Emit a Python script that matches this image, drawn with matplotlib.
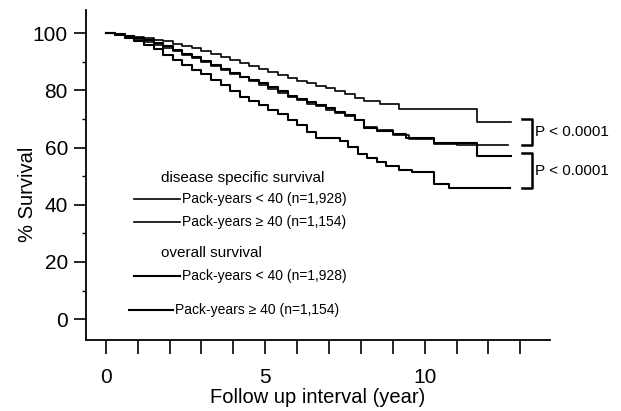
import matplotlib.pyplot as plt
from matplotlib.lines import Line2D

plt.rcParams['font.family'] = ['Liberation Sans', 'DejaVu Sans']

# Kaplan-Meier curves (years, % survival)
dss_lt40_t = [0, 0.3, 0.6, 0.9, 1.2, 1.5, 1.8, 2.1, 2.4, 2.7, 3.0, 3.3, 3.6, 3.9, 4.2, 4.5, 4.8, 5.1,
              5.4, 5.7, 6.0, 6.3, 6.6, 6.9, 7.2, 7.5, 7.8, 8.1, 8.6, 9.2, 11.65, 12.7]
dss_lt40_s = [100, 99.6, 99.1, 98.7, 98.2, 97.7, 97.1, 96.3, 95.6, 94.7, 93.8, 92.8, 91.7, 90.6, 89.4,
              88.5, 87.5, 86.4, 85.4, 84.3, 83.2, 82.4, 81.5, 80.7, 79.7, 78.6, 77.5, 76.3, 75.2, 73.6,
              69.0, 69.0]

dss_ge40_t = [0, 0.3, 0.6, 0.9, 1.2, 1.5, 1.8, 2.1, 2.4, 2.7, 3.0, 3.3, 3.6, 3.9, 4.2, 4.5, 4.8, 5.1,
              5.4, 5.7, 6.0, 6.3, 6.6, 6.9, 7.2, 7.5, 7.8, 8.1, 8.5, 9.0, 9.5, 10.3, 11.0, 12.6]
dss_ge40_s = [100, 99.4, 98.8, 98.0, 97.0, 96.0, 94.8, 93.6, 92.5, 91.2, 90.0, 88.6, 87.2, 85.8, 84.6,
              83.4, 82.0, 80.6, 79.2, 77.8, 76.6, 75.4, 74.4, 73.2, 72.2, 71.0, 69.5, 67.2, 66.0, 64.5,
              63.0, 61.2, 60.8, 60.8]

os_lt40_t = [0, 0.3, 0.6, 0.9, 1.2, 1.5, 1.8, 2.1, 2.4, 2.7, 3.0, 3.3, 3.6, 3.9, 4.2, 4.5, 4.8, 5.1,
             5.4, 5.7, 6.0, 6.3, 6.6, 6.9, 7.2, 7.5, 7.8, 8.1, 8.5, 9.0, 9.4, 10.3, 11.65, 12.7]
os_lt40_s = [100, 99.6, 99.0, 98.4, 97.6, 96.6, 95.4, 94.0, 92.8, 91.5, 90.2, 88.8, 87.4, 86.0, 84.8,
             83.6, 82.4, 81.0, 79.6, 78.2, 77.0, 75.8, 74.8, 73.8, 72.6, 71.4, 69.8, 67.0, 65.8, 64.8,
             63.2, 61.5, 57.0, 57.0]

os_ge40_t = [0, 0.3, 0.6, 0.9, 1.2, 1.5, 1.8, 2.1, 2.4, 2.7, 3.0, 3.3, 3.6, 3.9, 4.2, 4.5, 4.8, 5.1,
             5.4, 5.7, 6.0, 6.3, 6.6, 7.35, 7.6, 7.9, 8.2, 8.5, 8.8, 9.2, 9.6, 10.3, 10.77, 12.67]
os_ge40_s = [100, 99.3, 98.3, 97.2, 96.0, 94.3, 92.4, 90.6, 88.9, 87.2, 85.6, 83.7, 81.8, 79.6, 77.8,
             76.3, 74.8, 73.2, 71.6, 69.8, 68.0, 65.6, 63.2, 62.4, 60.2, 57.8, 56.2, 54.8, 53.5, 52.3,
             51.5, 47.4, 45.9, 45.9]

legend_labels = ['Pack-years < 40 (n=1,928)', 'Pack-years \u2265 40 (n=1,154)']
p_text = 'P < 0.0001'

W, H = 621, 411
fig = plt.figure(figsize=(W / 100, H / 100), dpi=100)
ax = fig.add_axes([86 / W, 1 - 340 / H, (550 - 86) / W, (340 - 10) / H])

ax.step(dss_lt40_t, dss_lt40_s, where='post', color='black', lw=1.2)
ax.step(dss_ge40_t, dss_ge40_s, where='post', color='black', lw=1.2)
ax.step(os_lt40_t, os_lt40_s, where='post', color='black', lw=1.5)
ax.step(os_ge40_t, os_ge40_s, where='post', color='black', lw=1.5)

ax.set_xlim(-0.62, 13.93)
ax.set_ylim(-7.3, 108.1)
ax.spines['top'].set_visible(False)
ax.spines['right'].set_visible(False)
ax.spines['left'].set_linewidth(1.3)
ax.spines['bottom'].set_linewidth(1.3)

ax.set_xticks(range(0, 14))
ax.set_xticklabels(['0', '', '', '', '', '5', '', '', '', '', '10', '', '', ''])
ax.set_yticks([0, 20, 40, 60, 80, 100])
ax.set_yticks([10, 30, 50, 70, 90], minor=True)
ax.tick_params(axis='x', length=10, width=1.2, pad=10, labelsize=15)
ax.tick_params(axis='y', length=9, width=1.2, pad=4, labelsize=15)
ax.tick_params(axis='y', which='minor', length=3, width=1.0)

ax.set_xlabel('Follow up interval (year)', fontsize=14.5, labelpad=1)
ax.set_ylabel('% Survival', fontsize=14.5)
ax.yaxis.set_label_coords(-0.105, 0.44)

# P-value brackets between the final values of each pair
for hi, lo in [(dss_lt40_s[-1], dss_ge40_s[-1]), (os_lt40_s[-1], os_ge40_s[-1])]:
    top = hi + 1
    ax.plot([13.05, 13.36, 13.36, 13.05], [top, top, lo, lo], color='black', lw=1.8)
    ax.text(13.46, (top + lo) / 2, p_text, fontsize=11, va='center', ha='left')

# custom legend in figure pixels
def fx(x):
    return x / W

def fy(y):
    return 1 - y / H

fig.text(fx(161), fy(178), 'disease specific survival', fontsize=11, va='center')
fig.text(fx(161), fy(253), 'overall survival', fontsize=11, va='center')
rows = [(134, 180, 199, legend_labels[0], 1.2), (134, 180, 222, legend_labels[1], 1.2),
        (134, 180, 276, legend_labels[0], 1.5), (129, 173, 310, legend_labels[1], 1.5)]
for x0, x1, y, lab, lw in rows:
    fig.add_artist(Line2D([fx(x0), fx(x1)], [fy(y), fy(y)], color='black', lw=lw))
    fig.text(fx(x1 + 2), fy(y), lab, fontsize=10, va='center')

fig.savefig('out.png', dpi=100)
